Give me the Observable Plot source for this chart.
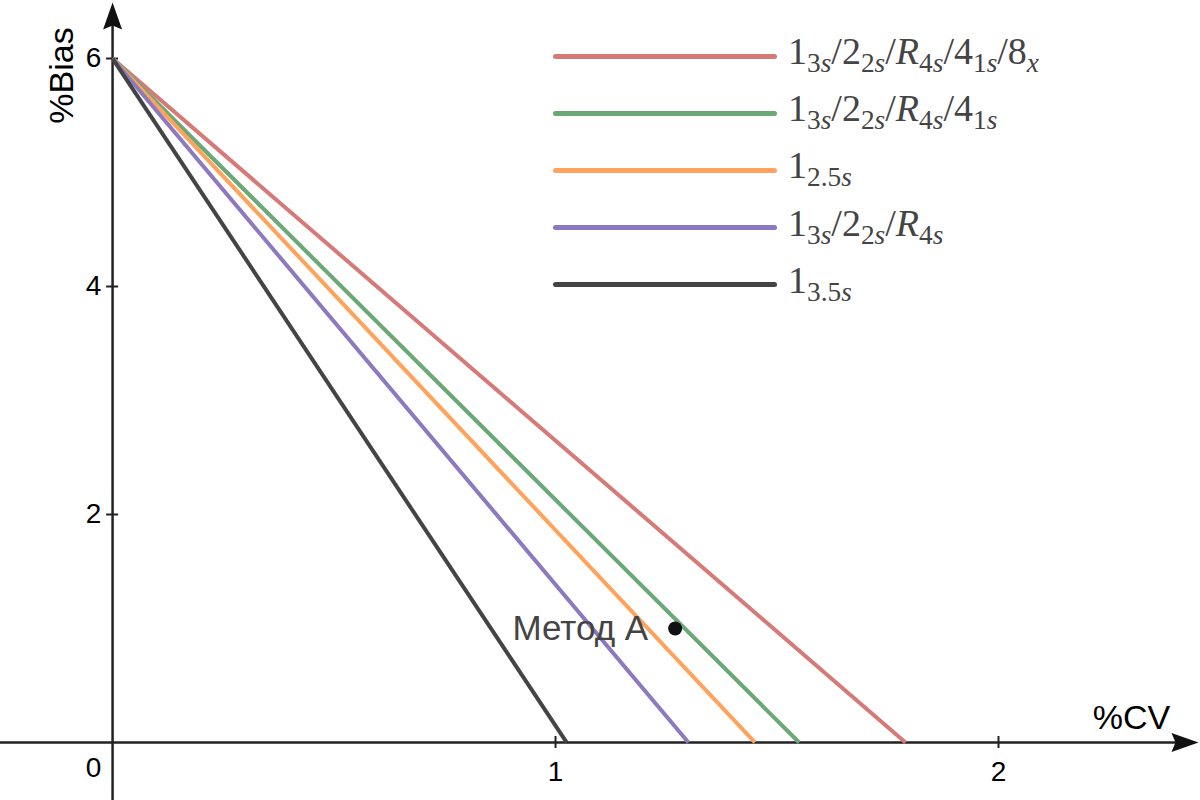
<!DOCTYPE html>
<html>
<head>
<meta charset="utf-8">
<script src="https://cdn.jsdelivr.net/npm/d3@7"></script>
<script src="https://cdn.jsdelivr.net/npm/@observablehq/plot@0.6"></script>
<style>
  html, body { margin: 0; padding: 0; background: #fff; }
  #wrap { position: relative; width: 1200px; height: 800px; overflow: hidden; }
  #legend { position: absolute; left: 553px; top: 0; font-family: "Liberation Serif", "DejaVu Serif", serif; color: #444; }
  .item { position: absolute; left: 0; height: 0; white-space: nowrap; }
  .swatch { position: absolute; left: 0; width: 224px; height: 5px; border-radius: 3px; top: -2.5px; }
  .lab { position: absolute; left: 235px; top: -25px; font-size: 38px; line-height: 40px; }
  .lab sub { font-size: 0.72em; vertical-align: -0.3em; line-height: 0; }
  .lab i { font-style: italic; }
</style>
</head>
<body>
<div id="wrap"><div id="legend"></div></div>
<script>
// ---- Data ----
const ruleNames = [
  "1_3s/2_2s/R_4s/4_1s/8_x",
  "1_3s/2_2s/R_4s/4_1s",
  "1_2.5s",
  "1_3s/2_2s/R_4s",
  "1_3.5s"
];
const ruleColors = ["#d67a78", "#6aa876", "#ffa35c", "#8c79c0", "#444444"];
const totalError = 6;                       // %Bias at %CV = 0
const cvIntercepts = [1.79, 1.55, 1.45, 1.30, 1.025]; // %CV at %Bias = 0
const methodLabels = ["Метод А"];
const methodCV = [1.27];
const methodBias = [1.0];
const xTicks = [1, 2];
const yTicks = [2, 4, 6];
const xDomain = [-0.253, 2.456];
const yDomain = [-0.509, 6.509];

// ---- Tables built from data ----
const lineRows = ruleNames.flatMap((r, i) => [
  {rule: r, cv: 0, bias: totalError},
  {rule: r, cv: cvIntercepts[i], bias: 0}
]);
const methods = methodLabels.map((m, i) => ({label: m, cv: methodCV[i], bias: methodBias[i]}));

const arrowHead = {
  draw(ctx) {
    ctx.moveTo(0, 0);
    ctx.lineTo(-27, -9.5);
    ctx.lineTo(-23, 0);
    ctx.lineTo(-27, 9.5);
    ctx.closePath();
  }
};

const font = "Liberation Sans, Arial, Helvetica, sans-serif";

const chart = Plot.plot({
  width: 1200,
  height: 800,
  margin: 0,
  style: {fontFamily: font, background: "#fff", overflow: "visible"},
  x: {domain: xDomain, axis: null},
  y: {domain: yDomain, axis: null},
  color: {domain: ruleNames, range: ruleColors},
  marks: [
    // axes
    Plot.ruleY([0], {stroke: "#222", strokeWidth: 2.5, insetRight: 20}),
    Plot.ruleX([0], {stroke: "#222", strokeWidth: 2.5, insetTop: 20}),
    Plot.dot([{x: xDomain[1], y: 0}], {x: "x", y: "y", symbol: arrowHead, fill: "#111", stroke: null, r: 10, dx: -2}),
    Plot.dot([{x: 0, y: yDomain[1]}], {x: "x", y: "y", symbol: arrowHead, fill: "#111", stroke: null, r: 10, rotate: -90, dy: 2}),
    // ticks
    Plot.ruleX(xTicks, {x: d => d, y1: 0, y2: 0, insetTop: -6, insetBottom: -6, stroke: "#222", strokeWidth: 2}),
    Plot.ruleY(yTicks, {y: d => d, x1: 0, x2: 0, insetLeft: -6, insetRight: -6, stroke: "#222", strokeWidth: 2}),
    // tick labels
    Plot.text(xTicks, {x: d => d, y: 0, text: d => String(d), dy: 30, fontSize: 28, fill: "#000"}),
    Plot.text([0], {x: 0, y: 0, text: d => String(d), dx: -19, dy: 26, fontSize: 28, fill: "#000"}),
    Plot.text(yTicks, {x: 0, y: d => d, text: d => String(d), dx: -19, fontSize: 28, fill: "#000"}),
    // axis labels
    Plot.text(["%CV"], {frameAnchor: "right", y: 0, text: d => d, textAnchor: "middle", lineAnchor: "middle", dx: -69, dy: -24, fontSize: 34, fill: "#000"}),
    Plot.text(["%Bias"], {x: 0, frameAnchor: "top", text: d => d, rotate: -90, textAnchor: "middle", lineAnchor: "middle", dx: -50, dy: 75, fontSize: 34, fill: "#000"}),
    // rule lines
    Plot.line(lineRows, {x: "cv", y: "bias", z: "rule", stroke: "rule", strokeWidth: 4, strokeLinecap: "butt"}),
    // method point
    Plot.dot(methods, {x: "cv", y: "bias", r: 7, fill: "#111", stroke: null}),
    Plot.text(methods, {x: "cv", y: "bias", text: "label", textAnchor: "end", dx: -27, fontSize: 35, fill: "#444"})
  ]
});
document.getElementById("wrap").prepend(chart);

// ---- Legend (HTML overlay) ----
function labelHTML(name) {
  return name.split("/").map(part => {
    const [base, sub] = part.split("_");
    const fmt = s => s.replace(/[A-Za-z]/g, c => `<i>${c}</i>`);
    return fmt(base) + (sub ? `<sub>${fmt(sub)}</sub>` : "");
  }).join("/");
}
const legend = document.getElementById("legend");
ruleNames.forEach((r, i) => {
  const item = document.createElement("div");
  item.className = "item";
  item.style.top = (56 + i * 57.2) + "px";
  item.innerHTML = `<div class="swatch" style="background:${ruleColors[i]}"></div><div class="lab">${labelHTML(r)}</div>`;
  legend.appendChild(item);
});
</script>
</body>
</html>
